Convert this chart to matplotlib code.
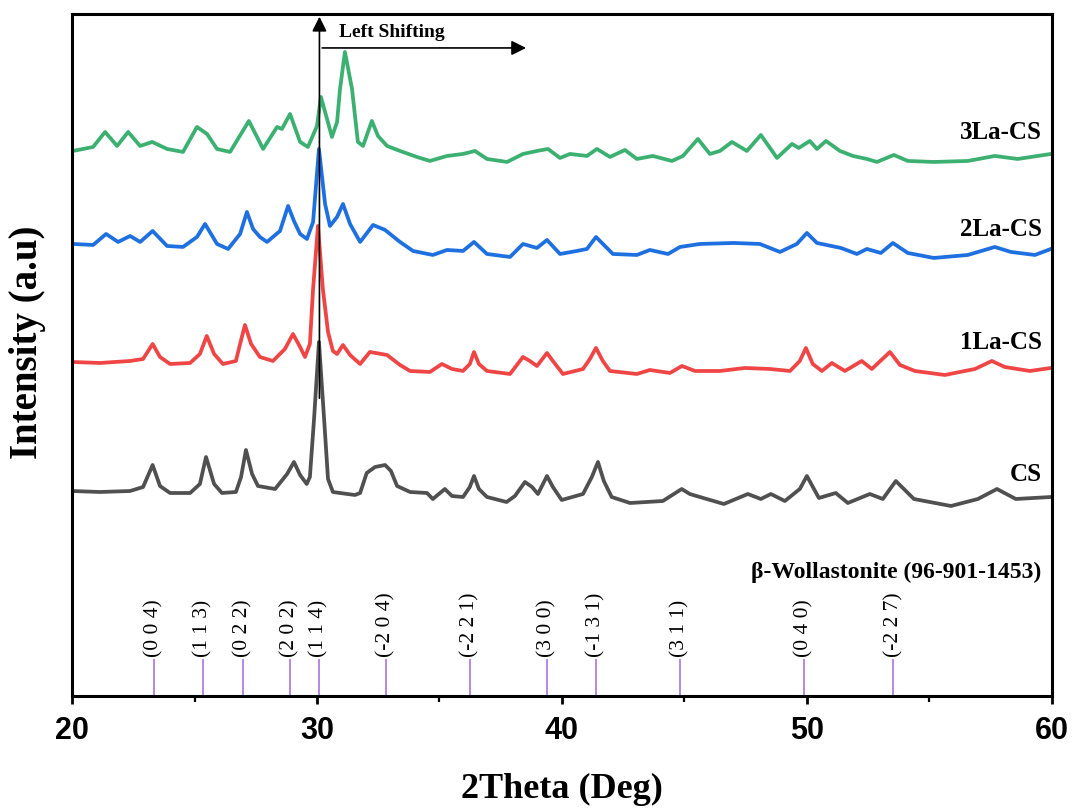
import numpy as np
import matplotlib
matplotlib.use("Agg")
import matplotlib.pyplot as plt

# XRD patterns (2theta in deg, intensity in a.u. above each baseline)
cs_x = [20.00, 21.14, 22.37, 22.90, 23.29, 23.59, 24.00, 24.82, 25.22, 25.47, 25.80, 26.12,
        26.69, 26.90, 27.10, 27.35, 27.59, 28.29, 28.78, 29.06, 29.31, 29.58, 29.71, 29.88,
        30.08, 30.29, 30.45, 30.65, 30.94, 31.55, 31.76, 32.03, 32.37, 32.78, 33.02, 33.27,
        33.80, 34.49, 34.73, 35.22, 35.51, 35.96, 36.24, 36.41, 36.61, 36.94, 37.74, 38.08,
        38.49, 38.78, 39.02, 39.39, 39.63, 39.99, 40.86, 41.22, 41.47, 41.71, 42.03, 42.78,
        44.12, 44.89, 45.22, 45.63, 46.61, 47.59, 48.12, 48.53, 49.10, 49.71, 50.00, 50.49,
        51.18, 51.67, 52.57, 53.10, 53.63, 54.37, 55.88, 56.98, 57.76, 58.53, 59.96]
cs_y = [18, 17, 18, 22, 44, 23, 16, 16, 25, 52, 25, 16,
        17, 32, 59, 35, 23, 20, 35, 47, 34, 25, 32, 90,
        167, 90, 30, 17, 16, 14, 16, 36, 42, 44, 38, 23,
        17, 16, 10, 20, 13, 12, 22, 33, 20, 12, 7, 13,
        27, 22, 15, 33, 22, 9, 15, 32, 47, 28, 12, 6,
        8, 20, 15, 12, 5, 15, 10, 15, 8, 20, 33, 11,
        16, 6, 15, 10, 28, 10, 3, 10, 20, 10, 12]

la1_x = [20.00, 21.14, 22.37, 22.90, 23.29, 23.59, 24.00, 24.82, 25.22, 25.50, 25.80, 26.16,
         26.69, 26.86, 27.06, 27.31, 27.67, 28.20, 28.69, 29.02, 29.31, 29.51, 29.71, 29.84,
         30.04, 30.24, 30.45, 30.65, 30.82, 31.06, 31.35, 31.76, 32.16, 32.86, 33.39, 33.80,
         34.61, 35.10, 35.51, 35.96, 36.24, 36.41, 36.61, 36.94, 37.88, 38.16, 38.41, 38.69,
         38.98, 39.39, 39.63, 40.04, 40.86, 41.14, 41.39, 41.67, 41.96, 43.06, 43.59, 44.41,
         44.90, 45.43, 46.45, 47.47, 48.49, 49.31, 49.71, 49.96, 50.24, 50.61, 51.02, 51.55,
         52.24, 52.65, 53.39, 53.80, 54.41, 55.63, 56.86, 57.55, 58.08, 59.10, 59.96]
la1_y = [17, 16, 18, 20, 35, 22, 15, 16, 25, 43, 25, 15,
         18, 35, 54, 35, 22, 18, 30, 45, 32, 22, 35, 90,
         153, 90, 47, 28, 25, 34, 24, 15, 27, 24, 14, 8,
         7, 15, 10, 8, 15, 27, 15, 8, 5, 14, 22, 18,
         13, 26, 18, 5, 10, 20, 31, 18, 8, 5, 9, 6,
         13, 8, 8, 11, 10, 8, 18, 31, 15, 8, 16, 8,
         18, 10, 27, 14, 8, 4, 10, 18, 12, 8, 11]

la2_x = [20.04, 20.86, 21.39, 21.88, 22.37, 22.78, 23.29, 23.88, 24.53, 25.10, 25.43, 25.92,
         26.37, 26.86, 27.14, 27.39, 27.67, 27.96, 28.49, 28.82, 29.06, 29.31, 29.59, 29.84,
         30.08, 30.33, 30.53, 30.82, 31.06, 31.35, 31.76, 32.29, 32.78, 33.39, 33.92, 34.73,
         35.31, 35.96, 36.41, 36.94, 37.88, 38.41, 38.98, 39.39, 39.92, 40.61, 41.02, 41.39,
         42.08, 43.06, 43.59, 44.33, 44.82, 45.63, 47.02, 48.08, 48.90, 49.59, 50.00, 50.41,
         51.39, 52.04, 52.45, 53.02, 53.51, 54.12, 55.18, 56.57, 57.67, 58.33, 59.31, 59.96]
la2_y = [17, 16, 27, 19, 25, 19, 30, 15, 14, 24, 37, 17,
         12, 27, 49, 32, 24, 19, 30, 55, 40, 27, 22, 39,
         112, 57, 35, 44, 57, 37, 19, 36, 31, 19, 10, 6,
         11, 10, 19, 7, 4, 17, 13, 21, 7, 10, 12, 24,
         7, 6, 11, 7, 14, 17, 18, 17, 9, 17, 28, 18,
         13, 7, 12, 8, 18, 8, 3, 6, 14, 9, 6, 12]

la3_x = [20.04, 20.86, 21.35, 21.84, 22.29, 22.78, 23.27, 23.88, 24.53, 25.10, 25.51, 25.92,
         26.45, 27.22, 27.80, 28.37, 28.57, 28.90, 29.31, 29.63, 30.00, 30.16, 30.41, 30.61,
         30.82, 30.94, 31.14, 31.43, 31.67, 31.88, 32.24, 32.49, 32.86, 33.39, 34.08, 34.61,
         35.31, 35.96, 36.45, 36.94, 37.76, 38.41, 38.98, 39.43, 39.92, 40.33, 41.02, 41.43,
         41.96, 42.57, 43.06, 43.71, 44.49, 44.94, 45.55, 46.04, 46.45, 46.94, 47.55, 48.12,
         48.78, 49.39, 49.67, 50.12, 50.41, 50.78, 51.35, 51.88, 52.45, 52.86, 53.55, 54.12,
         55.18, 56.57, 57.67, 58.61, 59.96]
la3_y = [16, 20, 35, 21, 35, 21, 25, 18, 15, 40, 33, 18,
         15, 46, 18, 40, 38, 53, 25, 20, 41, 70, 48, 30,
         45, 78, 115, 78, 25, 21, 46, 31, 21, 16, 10, 6,
         11, 13, 16, 8, 5, 13, 16, 18, 9, 13, 11, 18,
         10, 17, 8, 11, 6, 11, 28, 13, 16, 25, 16, 32,
         9, 23, 19, 26, 18, 26, 16, 11, 8, 5, 12, 6,
         5, 6, 11, 8, 13]

names = ["CS", "1La-CS", "2La-CS", "3La-CS"]
offsets = [187, 317, 435, 529]
colors = ["#505050", "#f04545", "#1e6fe0", "#3cb070"]
label_y = [222, 354, 467, 564]

# beta-wollastonite reference (96-901-1453)
ref_pos = [23.35, 25.33, 26.97, 28.90, 30.09, 32.82, 36.24, 39.39, 41.37, 44.83, 49.88, 53.53]
ref_hkl = ["(0 0 4)", "(1 1 3)", "(0 2 2)", "(2 0 2)", "(1 1 4)", "(-2 0 4)", "(-2 2 1)",
           "(3 0 0)", "(-1 3 1)", "(3 1 1)", "(0 4 0)", "(-2 2 7)"]

serif = "Liberation Serif"

fig = plt.figure(figsize=(10.72, 8.12), dpi=100)
ax = fig.add_axes([0.0672, 0.1416, 0.914, 0.840])

series = [(cs_x, cs_y), (la1_x, la1_y), (la2_x, la2_y), (la3_x, la3_y)]
for (xs, ys), off, c in zip(series, offsets, colors):
    ax.plot(xs, np.array(ys) + off, color=c, lw=2.7, solid_joinstyle="round")

for name, c, ly in zip(names, colors, label_y):
    ax.text(59.6, ly, name, ha="right", va="center", fontsize=18,
            fontweight="bold", family=serif)

# reference sticks + hkl labels
ax.vlines(ref_pos, 0, 37, color="#b07ee0", lw=1.3)
for p, h in zip(ref_pos, ref_hkl):
    ax.text(p, 40, h, rotation=90, ha="center", va="bottom", fontsize=15.5, family=serif)
ax.text(59.55, 125, "\u03b2-Wollastonite (96-901-1453)", ha="right", va="center",
        fontsize=17, fontweight="bold", family=serif)

# shift arrows
ax.annotate("", xy=(30.1, 682), xytext=(30.1, 295),
            arrowprops=dict(arrowstyle="-|>", color="black", lw=1.2, mutation_scale=22))
ax.annotate("", xy=(38.65, 648), xytext=(30.1, 648),
            arrowprops=dict(arrowstyle="-|>", color="black", lw=1.2, mutation_scale=22))
ax.text(30.9, 664, "Left Shifting", ha="left", va="center", fontsize=14,
        fontweight="bold", family=serif)

ax.set_xlim(20, 60)
ax.set_ylim(0, 682)
ax.set_xticks([20, 30, 40, 50, 60])
ax.set_xticks([25, 35, 45, 55], minor=True)
ax.set_yticks([])
for lab in ax.get_xticklabels():
    lab.set_family(["Liberation Sans Narrow", "Liberation Sans"])
    lab.set_fontweight("bold")
    lab.set_fontsize(22)
ax.tick_params(axis="x", which="major", direction="out", length=6, width=2, pad=8)
ax.tick_params(axis="x", which="minor", direction="out", length=4, width=1.6)
for s in ax.spines.values():
    s.set_linewidth(2.2)

ax.set_xlabel("2Theta (Deg)", fontsize=26, fontweight="bold", family=serif)
ax.xaxis.set_label_coords(0.5, -0.112)
ax.set_ylabel("Intensity (a.u)", fontsize=28, fontweight="bold", family=serif)
ax.yaxis.set_label_coords(-0.027, 0.52)

fig.savefig("out.png", dpi=100)
